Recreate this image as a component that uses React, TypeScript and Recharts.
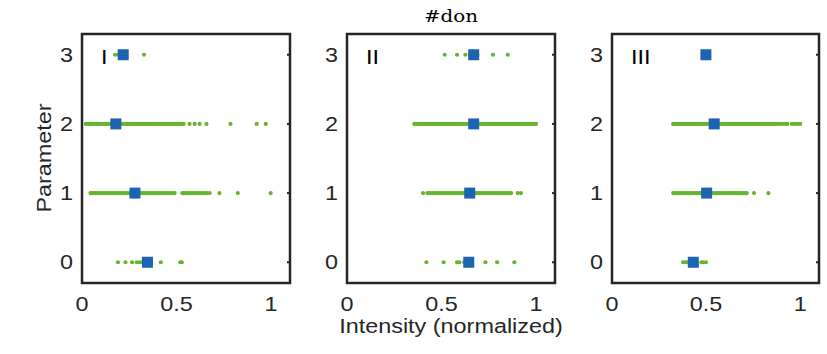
import React from 'react'
import { ScatterChart, Scatter, XAxis, YAxis, ReferenceArea } from 'recharts'

const GREEN = '#69b32e'
const BLUE = '#1c63b0'
const INK = '#262626'

const xTicks = [0, 0.5, 1]
const yTicks = [0, 1, 2, 3]
const panelNames = ['I', 'II', 'III']

// panel I, one array per parameter level (0..3)
const p1Row0 = [0.19, 0.23, 0.265, 0.29, 0.305, 0.32, 0.335, 0.36, 0.417, 0.52, 0.528]
const p1Row1 = [
  0.045, 0.05, 0.06, 0.07, 0.08, 0.09, 0.1, 0.11, 0.12, 0.13, 0.14, 0.15, 0.16, 0.17, 0.18, 0.19, 0.2,
  0.21, 0.22, 0.23, 0.24, 0.25, 0.26, 0.27, 0.28, 0.29, 0.3, 0.31, 0.32, 0.33, 0.34, 0.35, 0.36, 0.37,
  0.38, 0.39, 0.4, 0.41, 0.42, 0.43, 0.44, 0.45, 0.46, 0.47, 0.48, 0.49, 0.53, 0.54, 0.55, 0.56, 0.57,
  0.58, 0.59, 0.6, 0.61, 0.62, 0.63, 0.64, 0.65, 0.66, 0.675, 0.727, 0.824, 0.998,
]
const p1Row2 = [
  0.02, 0.03, 0.04, 0.05, 0.06, 0.07, 0.08, 0.09, 0.1, 0.11, 0.12, 0.13, 0.14, 0.15, 0.16, 0.17, 0.18,
  0.19, 0.2, 0.21, 0.22, 0.23, 0.24, 0.25, 0.26, 0.27, 0.28, 0.29, 0.3, 0.31, 0.32, 0.33, 0.34, 0.35,
  0.36, 0.37, 0.38, 0.39, 0.4, 0.41, 0.42, 0.43, 0.44, 0.45, 0.46, 0.47, 0.48, 0.49, 0.5, 0.51, 0.52,
  0.53, 0.537, 0.569, 0.596, 0.622, 0.658, 0.785, 0.924, 0.972,
]
const p1Row3 = [0.175, 0.19, 0.2, 0.21, 0.23, 0.328]
const p1Means = [0.346, 0.28, 0.179, 0.218]

// panel II
const p2Row0 = [0.42, 0.511, 0.582, 0.594, 0.62, 0.644, 0.66, 0.732, 0.794, 0.885]
const p2Row1 = [
  0.402, 0.425, 0.43, 0.44, 0.45, 0.46, 0.47, 0.48, 0.49, 0.5, 0.51, 0.52, 0.53, 0.54, 0.55, 0.56, 0.57,
  0.58, 0.59, 0.6, 0.61, 0.62, 0.63, 0.64, 0.65, 0.66, 0.67, 0.68, 0.69, 0.7, 0.71, 0.72, 0.73, 0.74,
  0.75, 0.76, 0.77, 0.78, 0.79, 0.8, 0.81, 0.82, 0.83, 0.84, 0.85, 0.86, 0.868, 0.903, 0.92,
]
const p2Row2 = [
  0.356, 0.36, 0.37, 0.38, 0.39, 0.4, 0.41, 0.42, 0.43, 0.44, 0.45, 0.46, 0.47, 0.48, 0.49, 0.5, 0.51,
  0.52, 0.53, 0.54, 0.55, 0.56, 0.57, 0.58, 0.59, 0.6, 0.61, 0.62, 0.63, 0.64, 0.65, 0.66, 0.67, 0.68,
  0.69, 0.7, 0.71, 0.72, 0.73, 0.74, 0.75, 0.76, 0.77, 0.78, 0.79, 0.8, 0.81, 0.82, 0.83, 0.84, 0.85,
  0.86, 0.87, 0.88, 0.89, 0.9, 0.91, 0.92, 0.93, 0.94, 0.95, 0.96, 0.97, 0.98, 0.99, 1.0,
]
const p2Row3 = [0.517, 0.582, 0.626, 0.65, 0.69, 0.772, 0.85]
const p2Means = [0.644, 0.649, 0.67, 0.67]

// panel III
const p3Row0 = [0.378, 0.39, 0.4, 0.41, 0.45, 0.475, 0.485, 0.499]
const p3Row1 = [
  0.325, 0.33, 0.34, 0.35, 0.36, 0.37, 0.38, 0.39, 0.4, 0.41, 0.42, 0.43, 0.44, 0.45, 0.46, 0.47, 0.48,
  0.49, 0.5, 0.51, 0.52, 0.53, 0.54, 0.55, 0.56, 0.57, 0.58, 0.59, 0.6, 0.61, 0.62, 0.63, 0.64, 0.65,
  0.66, 0.67, 0.68, 0.69, 0.7, 0.71, 0.716, 0.755, 0.831,
]
const p3Row2 = [
  0.325, 0.33, 0.34, 0.35, 0.36, 0.37, 0.38, 0.39, 0.4, 0.41, 0.42, 0.43, 0.44, 0.45, 0.46, 0.47, 0.48,
  0.49, 0.5, 0.51, 0.52, 0.53, 0.54, 0.55, 0.56, 0.57, 0.58, 0.59, 0.6, 0.61, 0.62, 0.63, 0.64, 0.65,
  0.66, 0.67, 0.68, 0.69, 0.7, 0.71, 0.72, 0.73, 0.74, 0.75, 0.76, 0.77, 0.78, 0.79, 0.8, 0.81, 0.82,
  0.83, 0.84, 0.85, 0.86, 0.866, 0.876, 0.89, 0.905, 0.92, 0.932, 0.956, 0.97, 0.985, 1.0,
]
const p3Row3: number[] = []
const p3Means = [0.432, 0.503, 0.543, 0.499]

const toPoints = (rows: number[][]) => rows.flatMap((xs, y) => xs.map(x => ({ x, y })))
const meanPoints = (means: number[]) => means.map((x, y) => ({ x, y }))

const panels = [
  { left: 82, right: 290, dots: toPoints([p1Row0, p1Row1, p1Row2, p1Row3]), means: meanPoints(p1Means) },
  { left: 347, right: 555, dots: toPoints([p2Row0, p2Row1, p2Row2, p2Row3]), means: meanPoints(p2Means) },
  { left: 612, right: 819, dots: toPoints([p3Row0, p3Row1, p3Row2, p3Row3]), means: meanPoints(p3Means) },
]

const W = 827
const H = 354
const TOP = 34
const BOTTOM = 283
const font = '"Liberation Sans", Arial, sans-serif'
const FS = 20
const STRETCH = 1.17 // the reference's sans text runs wider than Arial

const GreenDot = (p: any) => <circle cx={p.cx} cy={p.cy} r={2.1} fill={GREEN} />
const BlueSquare = (p: any) => <rect x={p.cx - 5.5} y={p.cy - 5.5} width={11} height={11} fill={BLUE} />
const NoTick = () => <g />

const XTick = ({ x, y, payload }: any) => (
  <g transform={`translate(${x},${y}) scale(${STRETCH},1)`}>
    <text textAnchor="middle" dy="0.71em" fontSize={FS} fontFamily={font} fill={INK}>
      {payload.value}
    </text>
  </g>
)

const YTick = ({ x, y, payload }: any) => (
  <g transform={`translate(${x},${y}) scale(${STRETCH},1)`}>
    <text textAnchor="end" dy="0.355em" fontSize={FS} fontFamily={font} fill={INK}>
      {payload.value}
    </text>
  </g>
)

function Panel({ left, right, dots, means }: any) {
  return (
    <div style={{ position: 'absolute', left: 0, top: 0 }}>
      <ScatterChart
        width={W}
        height={H}
        margin={{ top: TOP, right: W - right, bottom: H - BOTTOM - 30, left: left - 40 }}
      >
        <XAxis
          type="number"
          dataKey="x"
          domain={[0, 1.1]}
          ticks={xTicks}
          allowDataOverflow
          height={30}
          tickSize={0}
          tickMargin={14}
          axisLine={false}
          tickLine={false}
          tick={XTick}
        />
        <XAxis
          xAxisId="inner"
          type="number"
          domain={[0, 1.1]}
          ticks={xTicks}
          allowDataOverflow
          mirror
          height={1}
          tickSize={3}
          axisLine={false}
          tickLine={{ stroke: INK, strokeWidth: 2 }}
          tick={NoTick}
        />
        <YAxis
          type="number"
          dataKey="y"
          domain={[-0.3, 3.3]}
          ticks={yTicks}
          allowDataOverflow
          width={40}
          tickSize={0}
          tickMargin={9}
          axisLine={false}
          tickLine={false}
          tick={YTick}
        />
        <YAxis
          yAxisId="inner"
          orientation="right"
          type="number"
          domain={[-0.3, 3.3]}
          ticks={yTicks}
          allowDataOverflow
          mirror
          width={1}
          tickSize={3}
          axisLine={false}
          tickLine={{ stroke: INK, strokeWidth: 2 }}
          tick={NoTick}
        />
        <ReferenceArea x1={0} x2={1.1} y1={-0.3} y2={3.3} fill="none" stroke={INK} strokeWidth={2.5} />
        <Scatter data={dots} shape={GreenDot} isAnimationActive={false} />
        <Scatter data={means} shape={BlueSquare} isAnimationActive={false} />
      </ScatterChart>
    </div>
  )
}

export default function App() {
  return (
    <div style={{ position: 'absolute', left: 0, top: 0, width: W, height: H, background: '#fff', fontFamily: font, color: INK }}>
      {panels.map((p, i) => (
        <Panel key={i} {...p} />
      ))}
      {panels.map((p, i) => (
        <div
          key={'n' + i}
          style={{
            position: 'absolute', left: p.left + 19.4, top: 47, fontSize: FS, lineHeight: 1, color: '#000',
            transform: `scaleX(${STRETCH})`, transformOrigin: 'left',
          }}
        >
          {panelNames[i]}
        </div>
      ))}
      <div
        style={{
          position: 'absolute', left: 451, top: 8, transform: `translateX(-50%) scaleX(${STRETCH})`,
          fontFamily: '"DejaVu Serif", "Liberation Serif", serif', fontSize: 17, lineHeight: 1, color: '#000',
          whiteSpace: 'nowrap',
        }}
      >
        #don
      </div>
      <div
        style={{
          position: 'absolute', left: 451, top: 318, transform: `translateX(-50%) scaleX(${STRETCH})`,
          fontSize: FS, lineHeight: 0.8, whiteSpace: 'nowrap',
        }}
      >
        Intensity (normalized)
      </div>
      <div
        style={{
          position: 'absolute', left: 44, top: 158,
          transform: `translate(-50%, -50%) rotate(-90deg) scaleX(${STRETCH})`,
          fontSize: FS, lineHeight: 1, whiteSpace: 'nowrap',
        }}
      >
        Parameter
      </div>
    </div>
  )
}
